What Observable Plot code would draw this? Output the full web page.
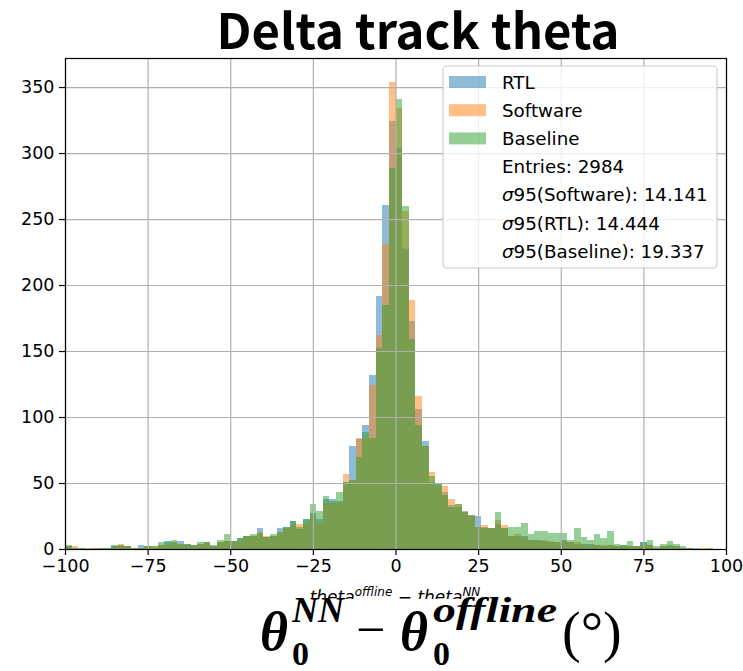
<!DOCTYPE html>
<html>
<head>
<meta charset="utf-8">
<script src="https://cdn.jsdelivr.net/npm/d3@7"></script>
<script src="https://cdn.jsdelivr.net/npm/@observablehq/plot@0.6"></script>
<style>
  body { margin: 0; background: #fff; }
  #fig { position: relative; width: 743px; height: 671px; overflow: hidden; background: #fff; }
  #fig > svg { position: absolute; left: 0; top: 0; }
  #overlay { pointer-events: none; }
</style>
</head>
<body>
<div id="fig"></div>
<script>
// Histogram of Δθ (degrees), 2-degree bins from -100 to 100.
const binWidth = 2;
const binLo = d3.range(-100, 100, binWidth);

// Counts per bin, left to right.
const rtl = [
  2, 1, 1, 0, 1, 1, 1, 3, 2, 2,
  1, 3, 2, 1, 3, 6, 5, 6, 4, 3,
  4, 5, 3, 5, 6, 6, 8, 10, 10, 16,
  9, 10, 16, 17, 21, 15, 23, 27, 23, 38,
  38, 36, 51, 78, 83, 94, 132, 192, 261, 324,
  304, 227, 173, 106, 82, 51, 50, 43, 33, 32,
  28, 25, 25, 17, 16, 19, 16, 10, 10, 10,
  7, 7, 6, 5, 5, 7, 5, 4, 4, 4,
  3, 2, 3, 2, 3, 2, 2, 5, 3, 1,
  2, 3, 2, 1, 1, 1, 0, 0, 0, 0
];
const software = [
  2, 2, 1, 0, 1, 1, 1, 2, 4, 2,
  1, 1, 2, 2, 3, 3, 5, 4, 3, 3,
  4, 5, 2, 5, 6, 6, 6, 10, 10, 13,
  10, 10, 13, 16, 18, 19, 20, 26, 20, 35,
  35, 35, 57, 52, 84, 84, 124, 162, 231, 354,
  334, 256, 189, 116, 78, 58, 48, 48, 38, 34,
  28, 26, 17, 18, 16, 22, 18, 10, 11, 9,
  7, 6, 7, 6, 5, 6, 5, 5, 3, 3,
  3, 3, 3, 2, 2, 2, 2, 3, 3, 1,
  2, 2, 2, 1, 1, 0, 1, 0, 0, 0
];
const baseline = [
  3, 1, 1, 1, 0, 1, 1, 2, 3, 2,
  1, 1, 2, 2, 5, 5, 7, 4, 4, 3,
  5, 5, 2, 7, 11, 6, 8, 10, 11, 12,
  9, 11, 13, 17, 21, 17, 23, 34, 29, 40,
  36, 43, 51, 52, 70, 89, 84, 152, 185, 289,
  341, 260, 159, 94, 78, 55, 50, 41, 32, 34,
  29, 26, 17, 16, 16, 28, 16, 17, 17, 20,
  11, 14, 14, 12, 12, 12, 7, 16, 9, 7,
  11, 8, 14, 4, 3, 6, 2, 5, 7, 2,
  4, 6, 4, 2, 1, 0, 0, 1, 0, 0
];

const seriesNames = ["RTL", "Software", "Baseline"];
const seriesColors = ["#1f77b4", "#ff7f0e", "#2ca02c"];
const xTicks = [-100, -75, -50, -25, 0, 25, 50, 75, 100];
const yTicks = [0, 50, 100, 150, 200, 250, 300, 350];
const legendStats = [
  "Entries: 2984",
  ["σ", "95(Software): 14.141"],
  ["σ", "95(RTL): 14.444"],
  ["σ", "95(Baseline): 19.337"]
];

const rows = binLo.map((lo, i) => ({
  lo, hi: lo + binWidth, rtl: rtl[i], software: software[i], baseline: baseline[i]
}));

const barOpts = (key, color) => ({
  x1: "lo", x2: "hi", y: key, fill: color, fillOpacity: 0.5, inset: 0, shapeRendering: "crispEdges"
});

const chart = Plot.plot({
  width: 743,
  height: 590,
  marginLeft: 65,
  marginRight: 17,
  marginTop: 58,
  marginBottom: 41,
  style: { fontFamily: "DejaVu Sans", fontSize: "17.5px", color: "#000", background: "transparent", overflow: "visible" },
  x: { domain: [-100, 100], label: null },
  y: { domain: [0, 372], label: null },
  marks: [
    Plot.rectY(rows, barOpts("rtl", seriesColors[0])),
    Plot.rectY(rows, barOpts("software", seriesColors[1])),
    Plot.rectY(rows, barOpts("baseline", seriesColors[2])),
    Plot.gridX(xTicks, { stroke: "#b0b0b0", strokeOpacity: 1, strokeWidth: 1.2 }),
    Plot.gridY(yTicks, { stroke: "#b0b0b0", strokeOpacity: 1, strokeWidth: 1.2 }),
    Plot.frame({ stroke: "#000", strokeWidth: 1.2 }),
    Plot.axisX(xTicks, { tickSize: 6, tickPadding: 4, tickFormat: d3.format("d"), label: null, strokeWidth: 1.2 }),
    Plot.axisY(yTicks, { tickSize: 6, tickPadding: 5, tickFormat: d => String(d), label: null, strokeWidth: 1.2 })
  ]
});

const fig = document.getElementById("fig");
fig.appendChild(chart);

// Annotation layer: title, legend, axis labels
const ov = d3.select(fig).append("svg")
  .attr("id", "overlay")
  .attr("width", 743).attr("height", 671);

ov.append("text")
  .attr("x", 418).attr("y", 49)
  .attr("text-anchor", "middle")
  .attr("font-family", "'Noto Sans CJK SC', 'Noto Sans', sans-serif")
  .attr("font-weight", 700)
  .attr("font-size", 49)
  .text("Delta track theta");

// Legend box
const lg = ov.append("g").attr("font-family", "DejaVu Sans").attr("font-size", 18.3);
lg.append("rect")
  .attr("x", 443).attr("y", 66).attr("width", 274).attr("height", 202)
  .attr("rx", 4)
  .attr("fill", "#fff").attr("fill-opacity", 0.8)
  .attr("stroke", "#cccccc").attr("stroke-width", 1.2);
const rowY = i => 82 + i * 28.2;
seriesNames.forEach((name, i) => {
  lg.append("rect")
    .attr("x", 449).attr("y", rowY(i) - 6).attr("width", 37).attr("height", 12)
    .attr("fill", seriesColors[i]).attr("fill-opacity", 0.5);
  lg.append("text").attr("x", 502).attr("y", rowY(i)).attr("dy", "0.36em").text(name);
});
legendStats.forEach((s, j) => {
  const t = lg.append("text").attr("x", 502).attr("y", rowY(3 + j)).attr("dy", "0.36em");
  if (Array.isArray(s)) {
    t.append("tspan").attr("font-style", "italic").text(s[0]);
    t.append("tspan").text(s[1]);
  } else {
    t.text(s);
  }
});

// Small axis label
const xl = ov.append("text")
  .attr("x", 395).attr("y", 603)
  .attr("text-anchor", "middle")
  .attr("font-family", "DejaVu Sans")
  .attr("font-style", "italic")
  .attr("font-size", 17);
xl.append("tspan").text("theta");
xl.append("tspan").attr("font-size", 12).attr("dy", -7).text("offline");
xl.append("tspan").attr("font-style", "normal").attr("dy", 7).text(" − ");
xl.append("tspan").text("theta");
xl.append("tspan").attr("font-size", 12).attr("dy", -7).text("NN");

// Large formula label on a white band
ov.append("rect").attr("x", 250).attr("y", 599).attr("width", 385).attr("height", 72).attr("fill", "#fff");
const F = ov.append("g").attr("font-family", "'Liberation Serif', serif").attr("font-weight", 700);
const put = (x, y, size, txt, italic = true, weight = 700, len = null) => {
  const t = F.append("text").attr("x", x).attr("y", y).attr("font-size", size)
    .attr("font-style", italic ? "italic" : "normal").attr("font-weight", weight).text(txt);
  if (len) t.attr("textLength", len).attr("lengthAdjust", "spacingAndGlyphs");
  return t;
};
put(260, 650, 54, "θ");
put(292, 622, 36, "NN");
put(292, 665, 34, "0", false);
put(356, 647, 52, "−", false, 400);
put(400, 650, 54, "θ");
put(433, 622, 36, "offline", true, 700, 124);
put(433, 665, 34, "0", false);
put(562, 651, 56, "(°)", false, 400);
</script>
</body>
</html>
